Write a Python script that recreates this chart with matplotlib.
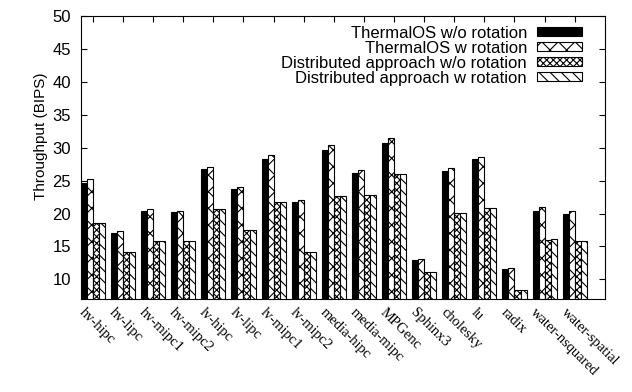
import numpy as np
import matplotlib.pyplot as plt
import matplotlib.transforms as mtransforms
from matplotlib.patches import Patch

benchmarks = ['hv-hipc', 'hv-lipc', 'hv-mipc1', 'hv-mipc2', 'lv-hipc', 'lv-lipc',
              'lv-mipc1', 'lv-mipc2', 'media-hipc', 'media-mipc', 'MPGenc', 'Sphinx3',
              'cholesky', 'lu', 'radix', 'water-nsquared', 'water-spatial']

thermal_norot = [24.65, 17.1, 20.45, 20.25, 26.7, 23.7, 28.3, 21.7, 29.7, 26.1,
                 30.65, 12.9, 26.45, 28.3, 11.6, 20.45, 19.95]
thermal_rot = [25.25, 17.3, 20.7, 20.4, 27.05, 24.05, 28.85, 22.0, 30.45, 26.6,
               31.55, 13.05, 26.85, 28.65, 11.8, 20.95, 20.35]
dist_norot = [18.6, 14.2, 15.9, 15.9, 20.7, 17.5, 21.7, 14.15, 22.6, 22.8,
              26.0, 11.05, 20.1, 20.8, 8.4, 16.0, 15.8]
dist_rot = [18.6, 14.2, 15.9, 15.9, 20.7, 17.5, 21.7, 14.15, 22.6, 22.8,
            26.0, 11.05, 20.1, 20.85, 8.4, 16.15, 15.8]

series = [
    ('ThermalOS w/o rotation', thermal_norot, 'black', ''),
    ('ThermalOS w rotation', thermal_rot, 'white', 'xx'),
    ('Distributed approach w/o rotation', dist_norot, 'white', 'xxxxx'),
    ('Distributed approach w rotation', dist_rot, 'white', '\\\\\\'),
]

plt.rcParams['font.family'] = 'Liberation Sans'
plt.rcParams['hatch.linewidth'] = 0.8

fig = plt.figure(figsize=(6.32, 3.92), dpi=100)
ax = fig.add_axes([0.128, 0.237, 0.829, 0.722])

x = np.arange(len(benchmarks))
w = 0.2
handles = []
for k, (name, vals, fc, hatch) in enumerate(series):
    ax.bar(x - 0.3 + k * w, vals, width=w, color=fc, edgecolor='black',
           linewidth=0.8, hatch=hatch)
    handles.append(Patch(facecolor=fc, edgecolor='black', hatch=hatch,
                         linewidth=0.8, label=name))

ax.set_xlim(-0.4, 17.0)
ax.set_ylim(7, 50)
ax.tick_params(direction='in', top=True, right=True, length=4)
ax.tick_params(axis='y', pad=7, labelsize=12)
ax.tick_params(axis='x', pad=5)
ax.set_yticks(np.arange(10, 51, 5))
ax.set_xticks(x)
ax.set_xticklabels(benchmarks, rotation=-45, ha='left', va='top',
                   rotation_mode='anchor', family='Liberation Serif', fontsize=10.5)
shift = mtransforms.ScaledTranslation(-7 / 100, 0, fig.dpi_scale_trans)
for lab in ax.get_xticklabels():
    lab.set_transform(lab.get_transform() + shift)
ax.set_ylabel('Throughput (BIPS)', fontsize=11)
ax.yaxis.set_label_coords(-0.063, 0.576)

ax.legend(handles=handles, loc='upper right', frameon=False, markerfirst=False,
          fontsize=12, handlelength=2.7, handleheight=0.4, labelspacing=0.0,
          handletextpad=0.6, borderaxespad=0.0, bbox_to_anchor=(0.969, 0.99))

fig.savefig('out.png', dpi=100)
